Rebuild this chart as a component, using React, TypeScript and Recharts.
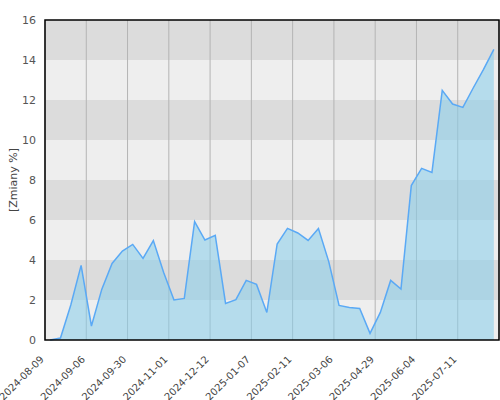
import React from 'react';
import {
  AreaChart,
  Area,
  XAxis,
  YAxis,
  CartesianGrid,
  ReferenceArea,
} from 'recharts';

// one value per period, left to right
const values = [
  0, 0.1, 1.75, 3.73, 0.7, 2.53, 3.83, 4.45, 4.78, 4.08,
  4.97, 3.37, 2.0, 2.08, 5.92, 5.0, 5.23, 1.83, 2.02, 2.98,
  2.78, 1.38, 4.8, 5.58, 5.35, 4.98, 5.57, 3.92, 1.73, 1.63,
  1.58, 0.33, 1.38, 2.98, 2.55, 7.72, 8.58, 8.38, 12.48, 11.8,
  11.63, 12.6, 13.53, 14.53,
];

// a label every 4 periods
const tickLabels = [
  '2024-08-09', '2024-09-06', '2024-09-30', '2024-11-01', '2024-12-12',
  '2025-01-07', '2025-02-11', '2025-03-06', '2025-04-29', '2025-06-04',
  '2025-07-11',
];

const yTicks = [0, 2, 4, 6, 8, 10, 12, 14, 16];

const STEP = 4;
const data = values.map((v, i) => ({ x: i + 0.5, value: v }));
const xTicks = tickLabels.map((_, i) => i * STEP);

const DateTick = (props: any) => {
  const { x, y, payload } = props;
  return (
    <g transform={`translate(${x - 0.5},${y + 12})`}>
      <text
        textAnchor="end"
        transform="rotate(-45)"
        fill="#444"
        fontSize={10}
        fontFamily="DejaVu Sans"
      >
        {tickLabels[payload.value / STEP]}
      </text>
    </g>
  );
};

export default function App() {
  return (
    <div style={{ position: 'absolute', left: 0, top: 0, fontFamily: 'DejaVu Sans' }}>
      <AreaChart
        width={500}
        height={400}
        data={data}
        margin={{ top: 20, right: 1, left: 0, bottom: 0 }}
      >
        <CartesianGrid
          vertical={false}
          stroke="none"
          horizontalFill={['#dcdcdc', '#eeeeee']}
          fillOpacity={1}
        />
        <CartesianGrid horizontal={false} stroke="#b4b4b4" />
        <XAxis
          dataKey="x"
          type="number"
          domain={[0, values.length]}
          ticks={xTicks}
          interval={0}
          height={60}
          tickLine={false}
          axisLine={false}
          tick={<DateTick />}
        />
        <YAxis
          domain={[0, 16]}
          ticks={yTicks}
          width={45}
          tickLine={false}
          axisLine={false}
          tickSize={0}
          tickMargin={9}
          tick={{ fill: '#555', fontSize: 11 }}
          label={{
            value: '[Zmiany %]',
            angle: -90,
            position: 'center',
            dx: -9,
            fill: '#444',
            fontSize: 11,
          }}
        />
        <Area
          type="linear"
          dataKey="value"
          stroke="#5aa9f5"
          strokeWidth={1.5}
          fill="#87ceeb"
          fillOpacity={0.55}
          isAnimationActive={false}
        />
        <ReferenceArea
          x1={0}
          x2={values.length}
          y1={0}
          y2={16}
          fill="none"
          stroke="#000"
          strokeWidth={1.5}
          ifOverflow="visible"
        />
      </AreaChart>
    </div>
  );
}
